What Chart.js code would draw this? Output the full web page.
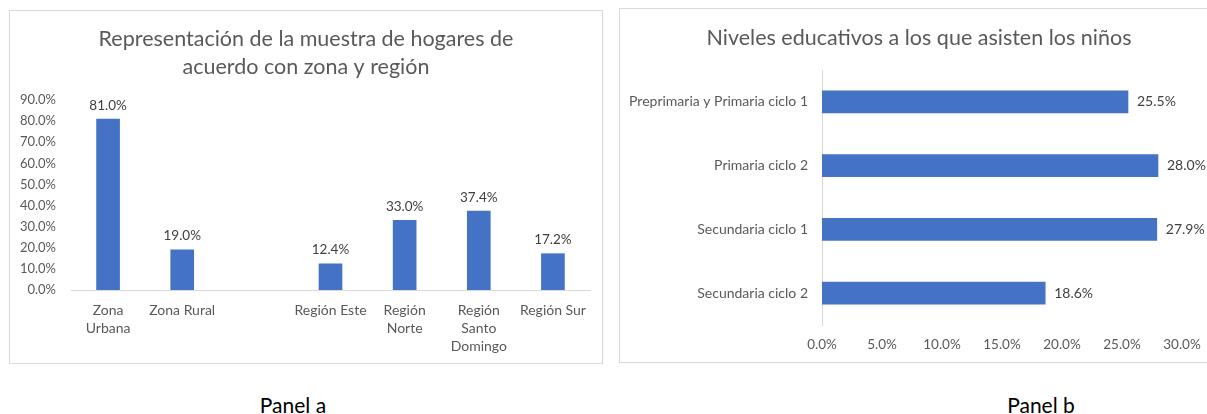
<!DOCTYPE html>
<html>
<head>
<meta charset="utf-8">
<script src="https://cdn.jsdelivr.net/npm/chart.js@4/dist/chart.umd.min.js"></script>
<style>
  body { margin: 0; background: #fff; width: 1207px; height: 414px; overflow: hidden; position: relative; font-family: Lato, sans-serif; }
  .box { position: absolute; border: 1px solid #d9d9d9; box-sizing: border-box; background: #fff; }
  .box div { position: absolute; left: 0; top: 0; }
  .panel { position: absolute; top: 393px; font-size: 21px; line-height: 24px; font-weight: 400; color: #000; width: 200px; text-align: center; }
</style>
</head>
<body>
<div class="box" style="left:9px; top:10px; width:594px; height:354px;">
  <div style="width:592px; height:352px;"><canvas id="zonaChart"></canvas></div>
</div>
<div class="box" style="left:619px; top:8px; width:600px; height:355px;">
  <div style="width:598px; height:353px;"><canvas id="nivelChart"></canvas></div>
</div>
<div class="panel" style="left:193px;">Panel a</div>
<div class="panel" style="left:941px;">Panel b</div>

<script>
// Panel a data
const zonaLabels = [['Zona', 'Urbana'], 'Zona Rural', '', 'Región Este', ['Región', 'Norte'], ['Región', 'Santo', 'Domingo'], 'Región Sur'];
const zonaValues = [81.0, 19.0, null, 12.4, 33.0, 37.4, 17.2];
const zonaTicks = [0, 10, 20, 30, 40, 50, 60, 70, 80, 90];

// Panel b data
const nivelLabels = ['Preprimaria y Primaria ciclo 1', 'Primaria ciclo 2', 'Secundaria ciclo 1', 'Secundaria ciclo 2'];
const nivelValues = [25.5, 28.0, 27.9, 18.6];
const nivelTicks = [0, 5, 10, 15, 20, 25, 30];

const blue = '#4472c4';
const grey = '#595959';
const pct = v => Number(v).toFixed(1) + '%';

// draws the value next to each bar
const valueLabels = {
  id: 'valueLabels',
  afterDatasetsDraw(chart) {
    const ctx = chart.ctx;
    const horizontal = chart.options.indexAxis === 'y';
    ctx.save();
    ctx.font = (horizontal ? '14px' : '13.5px') + ' Lato';
    ctx.fillStyle = '#404040';
    chart.getDatasetMeta(0).data.forEach((bar, i) => {
      const v = chart.data.datasets[0].data[i];
      if (v === null) return;
      if (horizontal) {
        ctx.textAlign = 'left';
        ctx.textBaseline = 'middle';
        ctx.fillText(pct(v), bar.x + 9, bar.y);
      } else {
        ctx.textAlign = 'center';
        ctx.textBaseline = 'bottom';
        ctx.fillText(pct(v), bar.x, bar.y - 7);
      }
    });
    ctx.restore();
  }
};

// title centred on the whole chart box (built-in title centres on the padded area)
const boxTitle = {
  id: 'boxTitle',
  afterDraw(chart, args, opts) {
    const ctx = chart.ctx;
    ctx.save();
    ctx.font = opts.size + 'px Lato';
    ctx.fillStyle = grey;
    ctx.textAlign = 'center';
    ctx.textBaseline = 'middle';
    opts.lines.forEach((line, i) => ctx.fillText(line, chart.width / 2, opts.y + i * opts.lineHeight));
    ctx.restore();
  }
};

Chart.defaults.font.family = 'Lato';
Chart.defaults.color = grey;

new Chart(document.getElementById('zonaChart'), {
  type: 'bar',
  data: {
    labels: zonaLabels,
    datasets: [{ data: zonaValues, backgroundColor: blue, barThickness: 23 }]
  },
  options: {
    responsive: true,
    maintainAspectRatio: false,
    animation: false,
    layout: { padding: { left: 0, right: 12, top: 89, bottom: 3 } },
    plugins: {
      legend: { display: false },
      tooltip: { enabled: false },
      boxTitle: {
        lines: ['Representación de la muestra de hogares de', 'acuerdo con zona y región'],
        size: 21.5, y: 28, lineHeight: 28
      }
    },
    scales: {
      x: {
        grid: { display: false },
        border: { display: true, color: '#d9d9d9' },
        ticks: { color: grey, font: { size: 14, lineHeight: 1.27 }, padding: 4, maxRotation: 0, autoSkip: false },
        afterFit: s => { s.height = 70; }
      },
      y: {
        min: 0,
        max: 90,
        afterBuildTicks: s => { s.ticks = zonaTicks.map(v => ({ value: v })); },
        grid: { display: false, drawTicks: false },
        border: { display: false },
        ticks: { color: grey, font: { size: 13 }, padding: 15, callback: v => pct(v) },
        afterFit: s => { s.width = 61; }
      }
    }
  },
  plugins: [valueLabels, boxTitle]
});

new Chart(document.getElementById('nivelChart'), {
  type: 'bar',
  data: {
    labels: nivelLabels,
    datasets: [{ data: nivelValues, backgroundColor: blue, barThickness: 22 }]
  },
  options: {
    indexAxis: 'y',
    responsive: true,
    maintainAspectRatio: false,
    animation: false,
    layout: { padding: { left: 0, right: 36, top: 61, bottom: 7 } },
    plugins: {
      legend: { display: false },
      tooltip: { enabled: false },
      boxTitle: {
        lines: ['Niveles educativos a los que asisten los niños'],
        size: 21.5, y: 29, lineHeight: 28
      }
    },
    scales: {
      x: {
        min: 0,
        max: 30,
        afterBuildTicks: s => { s.ticks = nivelTicks.map(v => ({ value: v })); },
        grid: { display: false, drawTicks: false },
        border: { display: false },
        ticks: { color: grey, font: { size: 13.5 }, padding: 12, maxRotation: 0, callback: v => pct(v) },
        afterFit: s => { s.height = 30; }
      },
      y: {
        grid: { display: false, drawTicks: false },
        border: { display: true, color: '#d9d9d9' },
        ticks: { color: grey, font: { size: 14 }, padding: 14, autoSkip: false },
        afterFit: s => { s.width = 202; }
      }
    }
  },
  plugins: [valueLabels, boxTitle]
});
</script>
</body>
</html>
